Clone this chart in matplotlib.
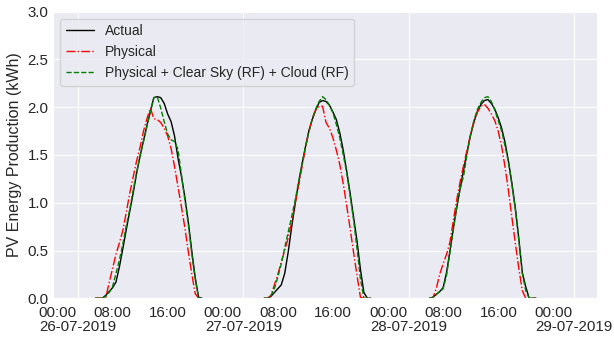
import numpy as np
import pandas as pd
import seaborn as sns
import matplotlib
matplotlib.use("Agg")
import matplotlib.pyplot as plt
import matplotlib.dates as mdates
from matplotlib.transforms import ScaledTranslation

# half-hourly daytime values, one list per day, starting at window_starts[i]
days = ["2019-07-26", "2019-07-27", "2019-07-28"]
window_starts = ["02:30", "03:00", "03:00"]
date_ticks = ["2019-07-26", "2019-07-27", "2019-07-28", "2019-07-29"]

actual_d1 = [0, 0, 0, 0.03, 0.07, 0.11, 0.17, 0.33, 0.52, 0.72, 0.91, 1.10, 1.31, 1.49, 1.65, 1.81,
             1.96, 2.10, 2.11, 2.10, 2.04, 1.93, 1.85, 1.70, 1.47, 1.28, 1.06, 0.80, 0.50, 0.22, 0.01, 0]
actual_d2 = [0, 0, 0.02, 0.06, 0.10, 0.14, 0.26, 0.48, 0.74, 0.98, 1.20, 1.40, 1.58, 1.75, 1.87, 1.97,
             2.05, 2.07, 2.06, 2.02, 1.95, 1.87, 1.73, 1.55, 1.33, 1.10, 0.85, 0.60, 0.30, 0.06, 0, 0]
actual_d3 = [0, 0.01, 0.04, 0.07, 0.11, 0.27, 0.50, 0.74, 0.96, 1.16, 1.35, 1.54, 1.71, 1.85, 1.96, 2.03,
             2.07, 2.08, 2.04, 1.98, 1.89, 1.78, 1.63, 1.43, 1.20, 0.94, 0.62, 0.27, 0.12, 0, 0, 0]

physical_d1 = [0, 0, 0, 0, 0.16, 0.31, 0.46, 0.58, 0.71, 0.90, 1.10, 1.27, 1.44, 1.58, 1.75, 1.88,
               1.99, 1.88, 1.87, 1.84, 1.78, 1.70, 1.57, 1.38, 1.17, 0.96, 0.74, 0.49, 0.26, 0.05, 0, 0]
physical_d2 = [0, 0, 0.03, 0.14, 0.25, 0.38, 0.50, 0.63, 0.79, 0.99, 1.17, 1.37, 1.57, 1.74, 1.88, 1.97,
               2.01, 2.01, 1.84, 1.78, 1.68, 1.55, 1.40, 1.20, 0.97, 0.73, 0.48, 0.24, 0.01, 0, 0, 0]
physical_d3 = [0, 0, 0.10, 0.25, 0.36, 0.46, 0.59, 0.82, 1.04, 1.23, 1.40, 1.56, 1.72, 1.85, 1.95, 2.01,
               2.03, 1.99, 1.93, 1.86, 1.75, 1.59, 1.37, 1.12, 0.84, 0.57, 0.31, 0.08, 0, 0, 0, 0]

hybrid_d1 = [0, 0, 0, 0.02, 0.06, 0.12, 0.26, 0.40, 0.57, 0.76, 0.93, 1.13, 1.32, 1.49, 1.64, 1.80,
             1.95, 2.10, 2.11, 1.99, 1.85, 1.72, 1.66, 1.64, 1.56, 1.30, 1.03, 0.78, 0.47, 0.20, 0, 0]
hybrid_d2 = [0, 0, 0.03, 0.10, 0.22, 0.36, 0.53, 0.69, 0.85, 1.02, 1.21, 1.40, 1.58, 1.74, 1.88, 1.98,
             2.06, 2.11, 2.08, 2.02, 1.94, 1.82, 1.68, 1.50, 1.32, 1.07, 0.82, 0.52, 0.20, 0, 0, 0]
hybrid_d3 = [0, 0.01, 0.04, 0.07, 0.10, 0.24, 0.48, 0.72, 0.96, 1.15, 1.29, 1.52, 1.72, 1.87, 1.98, 2.05,
             2.10, 2.11, 2.06, 1.97, 1.86, 1.75, 1.59, 1.42, 1.18, 0.92, 0.60, 0.26, 0.08, 0, 0, 0]

labels = ["Actual", "Physical", "Physical + Clear Sky (RF) + Cloud (RF)"]

idx = pd.date_range("2019-07-26 00:00", "2019-07-28 23:30", freq="30min")
df = pd.DataFrame(np.nan, index=idx, columns=labels)
series = {
    labels[0]: [actual_d1, actual_d2, actual_d3],
    labels[1]: [physical_d1, physical_d2, physical_d3],
    labels[2]: [hybrid_d1, hybrid_d2, hybrid_d3],
}
for col, per_day in series.items():
    for d, start, vals in zip(days, window_starts, per_day):
        t = pd.date_range(d + " " + start, periods=len(vals), freq="30min")
        df.loc[t, col] = vals

sns.set_style("darkgrid")
plt.rcParams["font.family"] = ["Liberation Sans", "DejaVu Sans"]

fig = plt.figure(figsize=(6.14, 3.38), dpi=100)
ax = fig.add_axes([0.0868, 0.1175, 0.885, 0.848])

ax.plot(df.index, df[labels[0]], color="k", lw=1.0, label=labels[0])
ax.plot(df.index, df[labels[1]], color="r", ls="-.", lw=1.0, label=labels[1])
ax.plot(df.index, df[labels[2]], color="g", ls="--", lw=1.0, label=labels[2])

ax.set_ylim(0, 3.0)
ax.set_xlim(pd.Timestamp("2019-07-25 20:24"), pd.Timestamp("2019-07-29 03:18"))
ax.set_ylabel("PV Energy Production (kWh)", fontsize=11.5)

# times on the tick labels, dates as a second row under each midnight
ax.xaxis.set_major_locator(mdates.DayLocator())
ax.xaxis.set_major_formatter(mdates.DateFormatter("%H:%M"))
ax.xaxis.set_minor_locator(mdates.HourLocator(byhour=[8, 16]))
ax.xaxis.set_minor_formatter(mdates.DateFormatter("%H:%M"))
ax.tick_params(axis="both", which="both", labelsize=10.8, length=0)
ax.tick_params(axis="x", which="both", pad=5.7)
ax.tick_params(axis="y", pad=3.5)
ax.grid(True, which="major")

shift = ScaledTranslation(-0.205, 0, fig.dpi_scale_trans)
for lab in ax.xaxis.get_majorticklabels() + ax.xaxis.get_minorticklabels():
    lab.set_transform(lab.get_transform() + shift)

for d in date_ticks:
    ts = pd.Timestamp(d)
    ax.annotate(ts.strftime("%d-%m-%Y"), xy=(mdates.date2num(ts), 0),
                xycoords=("data", "axes fraction"), xytext=(0, -15.5),
                textcoords="offset points", ha="center", va="top",
                fontsize=10.8, annotation_clip=False)

ax.legend(loc="upper left", fontsize=10)

fig.savefig("out.png", dpi=100)
